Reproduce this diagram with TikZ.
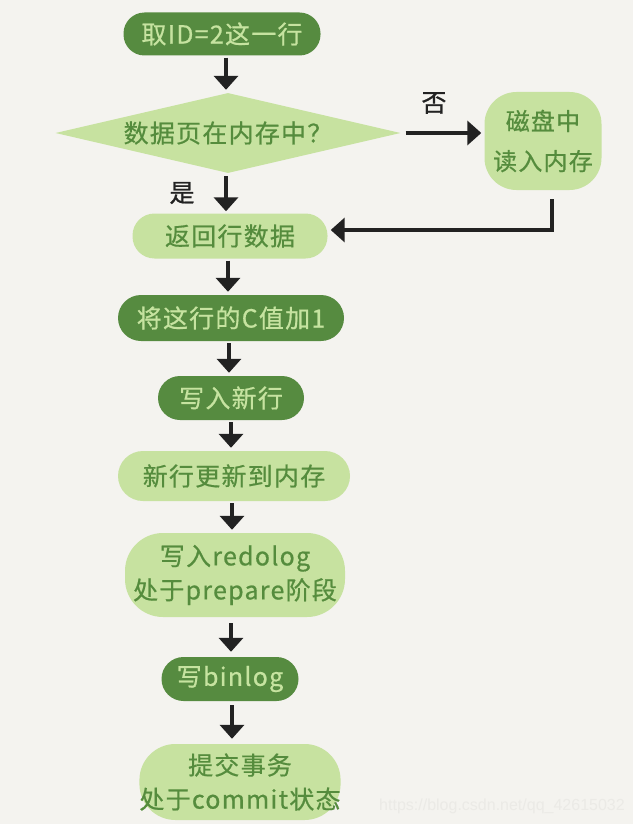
\documentclass[tikz,border=0pt]{standalone}
\usepackage{fontspec}
\setmainfont{Noto Sans CJK SC}
\newfontfamily\hand[LetterSpace=5,FakeBold=0.6]{Noto Sans CJK SC}
\newfontfamily\labfont[FakeBold=0.8]{Noto Sans CJK SC}
\newfontfamily\wm{Liberation Sans}
\usetikzlibrary{shapes.geometric,arrows.meta}
\definecolor{bg}{HTML}{F4F3EF}
\definecolor{darkg}{HTML}{568B40}
\definecolor{lightg}{HTML}{C7E2A0}
\definecolor{txtl}{HTML}{C6E3A0}
\definecolor{txtd}{HTML}{558C3D}
\definecolor{ink}{HTML}{222222}
\definecolor{wmc}{HTML}{EBEAE6}
\begin{document}
\begin{tikzpicture}[x=1pt,y=-1pt,
  box/.style={rectangle,inner sep=0pt,align=center,font=\hand\fontsize{25}{34}\selectfont},
  darkbox/.style={box,fill=darkg,text=txtl},
  lightbox/.style={box,fill=lightg,text=txtd},
  arr/.style={draw=ink,line width=4pt,-{Triangle[width=24pt 0,length=14pt 0]}},
  lab/.style={font=\labfont\fontsize{25}{25}\selectfont,text=ink}]
\fill[bg] (0,0) rectangle (633,824);
\useasboundingbox (0,0) rectangle (633,824);

\node[darkbox,minimum width=197pt,minimum height=43pt,rounded corners=21pt] (n1) at (222,34) {取ID=2这一行};
\node[lightbox,shape=diamond,shape aspect=4.3,inner sep=0pt,minimum width=345pt,minimum height=80pt,text width=210pt,align=center] (dia) at (228,133) {数据页在内存中？};
\node[lightbox,minimum width=117pt,minimum height=98pt,rounded corners=32pt,font=\hand\fontsize{24}{40}\selectfont] (disk) at (543,141) {磁盘中\\读入内存};
\node[lightbox,minimum width=195pt,minimum height=45pt,rounded corners=22pt] (n4) at (230,236) {返回行数据};
\node[darkbox,minimum width=226pt,minimum height=46pt,rounded corners=23pt] (n5) at (231,318) {将这行的C值加1};
\node[darkbox,minimum width=146pt,minimum height=44pt,rounded corners=22pt] (n6) at (231,398) {写入新行};
\node[lightbox,minimum width=232pt,minimum height=50pt,rounded corners=25pt] (n7) at (234,476) {新行更新到内存};
\node[lightbox,minimum width=220pt,minimum height=84pt,rounded corners=38pt] (n8) at (235,575) {写入redolog\\处于prepare阶段};
\node[darkbox,minimum width=137pt,minimum height=44pt,rounded corners=22pt] (n9) at (230,679) {写binlog};
\node[lightbox,minimum width=200pt,minimum height=76pt,rounded corners=36pt] (n10) at (240,782) {提交事务\\处于commit状态};

\node[lab] (no) at (434,103) {否};
\node[lab] (yes) at (182,193) {是};

\draw[arr,shorten <=2pt,shorten >=3pt] ([xshift=4pt]n1.south) -- ([xshift=4pt]n1.south |- dia.north);
\draw[arr,shorten <=3pt,shorten >=2pt] ([xshift=-2pt]dia.south) -- ([xshift=-2pt]dia.south |- n4.north);
\draw[arr,shorten <=5pt,shorten >=3pt] (dia.east) -- (dia.east -| disk.west);
\draw[arr,shorten <=2pt,shorten >=3pt] ([xshift=-2pt]n4.south) -- ([xshift=-2pt]n4.south |- n5.north);
\draw[arr,shorten <=2pt,shorten >=3pt] ([xshift=-2pt]n5.south) -- ([xshift=-2pt]n5.south |- n6.north);
\draw[arr,shorten <=2pt,shorten >=3pt] (n6.south) -- (n6.south |- n7.north);
\draw[arr,shorten <=2pt,shorten >=3pt] ([xshift=-2pt]n7.south) -- ([xshift=-2pt]n7.south |- n8.north);
\draw[arr,shorten <=6pt,shorten >=5pt] ([xshift=-4pt]n8.south) -- ([xshift=-4pt]n8.south |- n9.north);
\draw[arr,shorten <=4pt,shorten >=5pt] ([xshift=2pt]n9.south) -- ([xshift=2pt]n9.south |- n10.north);
\draw[arr,shorten <=9pt,shorten >=3pt] ([xshift=9pt]disk.south) |- ([yshift=6pt]n4.east);

\node[font=\wm\fontsize{16}{16}\selectfont,text=wmc] (wmark) at (502,806) {https://blog.csdn.net/qq\_42615032};
\end{tikzpicture}
\end{document}
